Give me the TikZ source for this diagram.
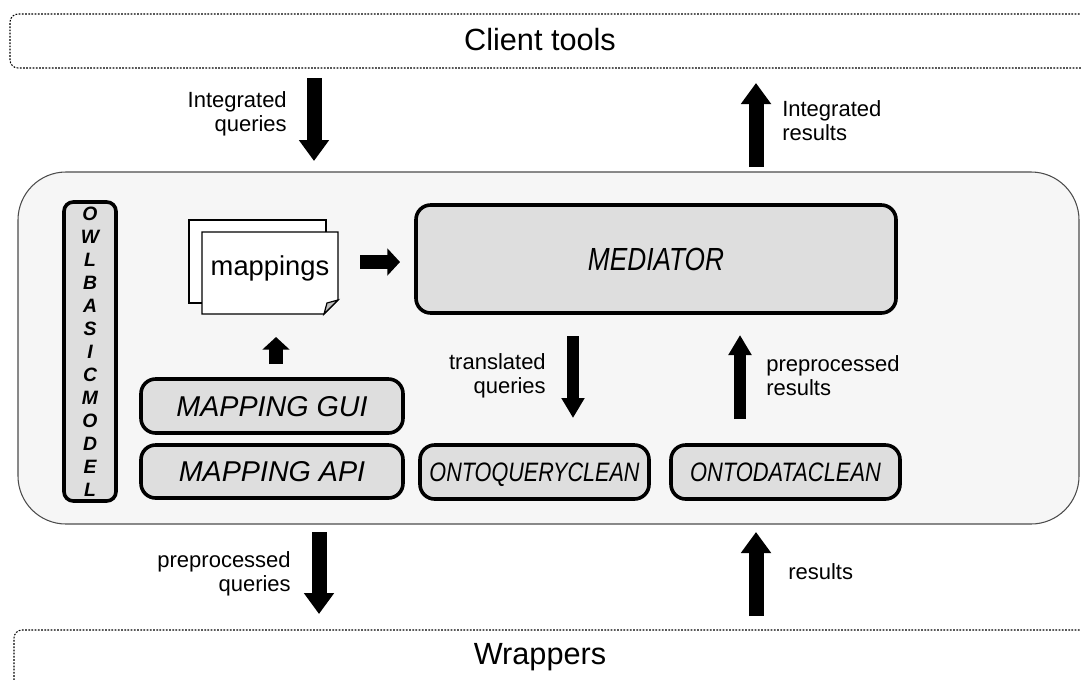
\documentclass[tikz,border=0pt]{standalone}
\usepackage{fontspec}
\setmainfont{Liberation Sans}
\usetikzlibrary{arrows.meta,fit}
\definecolor{panel}{HTML}{F6F6F6}
\definecolor{boxfill}{HTML}{DEDEDE}
\begin{document}
\begin{tikzpicture}[x=0.75pt,y=-0.75pt,
  lane/.style={draw=black, line width=0.8pt, dash pattern=on 1.3pt off 1.1pt, rounded corners=6pt, inner sep=0pt},
  panelbox/.style={draw=black!70, line width=0.8pt, fill=panel, rounded corners=36pt, inner sep=0pt},
  unit/.style={draw=black, fill=boxfill, line width=2.7pt, rounded corners=11pt, inner sep=0pt},
  unitlabel/.style={inner sep=0pt, text depth=0pt, font=\fontsize{#1}{#1}\selectfont\itshape},
  bigfont/.style={font=\fontsize{23}{27}\selectfont},
  note/.style={font=\fontsize{16.5}{18}\selectfont, inner sep=0pt},
  bigarrow/.style={line width=11.25pt, -{Triangle[width=21.75pt,length=15.75pt]}},
  midarrow/.style={line width=9.5pt, -{Triangle[width=16.5pt,length=15pt]}},
  smallarrow/.style={line width=11pt, -{Triangle[width=20pt,length=9.5pt]}},
  sheet/.style={draw=black, line width=0.9pt, fill=white},
]
\useasboundingbox (0,0) rectangle (1081,679);
\clip (0,0) rectangle (1081,679);

% outer layers
\node[lane, fit={(10,14) (1110,68)}] (client) {};
\node[bigfont] (clientlbl) at (540,40) {Client tools};
\node[lane, fit={(14,630) (1110,720)}] (wrap) {};
\node[bigfont] (wraplbl) at (540,657) {Wrappers};

% middleware panel
\node[panelbox, fit={(18,172) (1079,524)}] (core) {};

% ontology column
\node[unit, rounded corners=7pt, fit={(64,202) (116,501)}] (owl) {};
\node[font=\fontsize{14.5}{17.25}\selectfont\bfseries\itshape, align=center, inner sep=0pt] (owllbl) at (owl.center)
  {O\\W\\L\\B\\A\\S\\I\\C\\M\\O\\D\\E\\L};

% mapping documents
\draw[sheet] (189,220) rectangle (326,303);
\draw[sheet] (202,232) -- (338,232) -- (338,300) -- (324,314) -- (202,314) -- cycle;
\draw[line width=0.9pt, fill=black!25] (338,300) -- (327,303) -- (324,314) -- cycle;
\node[font=\fontsize{20.5}{24}\selectfont, inner sep=0pt] (maps) at (270,268) {mappings};
\coordinate (mapsE) at (360,262);
\coordinate (mapsS) at (276,337);

% components
\node[unit, fit={(416,205) (896,313)}] (med) {};
\node[unitlabel=24] (medlbl) at (med.center) {\scalebox{0.82}[1]{MEDIATOR}};
\node[unit, fit={(141,379) (403,433)}] (gui) {};
\node[unitlabel=21.5] (guilbl) at (gui.center) {MAPPING GUI};
\node[unit, fit={(141,445) (403,498)}] (api) {};
\node[unitlabel=21.5] (apilbl) at (api.center) {MAPPING API};
\node[unit, fit={(420,445) (649,499)}] (oqc) {};
\node[unitlabel=20] (oqclbl) at (oqc.center) {\scalebox{0.81}[1]{ONTOQUERYCLEAN}};
\node[unit, fit={(671,445) (900,499)}] (odc) {};
\node[unitlabel=20] (odclbl) at (odc.center) {\scalebox{0.82}[1]{ONTODATACLEAN}};

% flow arrows
\coordinate (iqA) at (314,78);   \coordinate (iqB) at (314,161);
\coordinate (irA) at (756,167);  \coordinate (irB) at (756,83);
\coordinate (tqA) at (573,336);  \coordinate (tqB) at (573,418);
\coordinate (prA) at (740,419);  \coordinate (prB) at (740,335);
\coordinate (pqA) at (319,532);  \coordinate (pqB) at (319,614);
\coordinate (rsA) at (756,616);  \coordinate (rsB) at (756,532);
\coordinate (guiN) at (276,364);
\coordinate (medW) at (400,262);

\draw[bigarrow] (iqA) -- (iqB);
\draw[bigarrow] (irA) -- (irB);
\draw[midarrow] (tqA) -- (tqB);
\draw[midarrow] (prA) -- (prB);
\draw[bigarrow] (pqA) -- (pqB);
\draw[bigarrow] (rsA) -- (rsB);
\draw[smallarrow] (guiN) -- (mapsS);
\draw[smallarrow] (mapsE) -- (medW);

% arrow captions
\node[note, align=right, anchor=east] (iqlbl) at (287,114) {Integrated\\queries};
\node[note, align=left, anchor=west] (irlbl) at (782,121) {Integrated\\results};
\node[note, align=right, anchor=east] (tqlbl) at (546,376) {translated\\queries};
\node[note, align=left, anchor=west] (prlbl) at (766,376) {preprocessed\\results};
\node[note, align=right, anchor=east] (pqlbl) at (291,574) {preprocessed\\queries};
\node[note, align=left, anchor=west] (rslbl) at (788,572) {results};
\end{tikzpicture}
\end{document}
